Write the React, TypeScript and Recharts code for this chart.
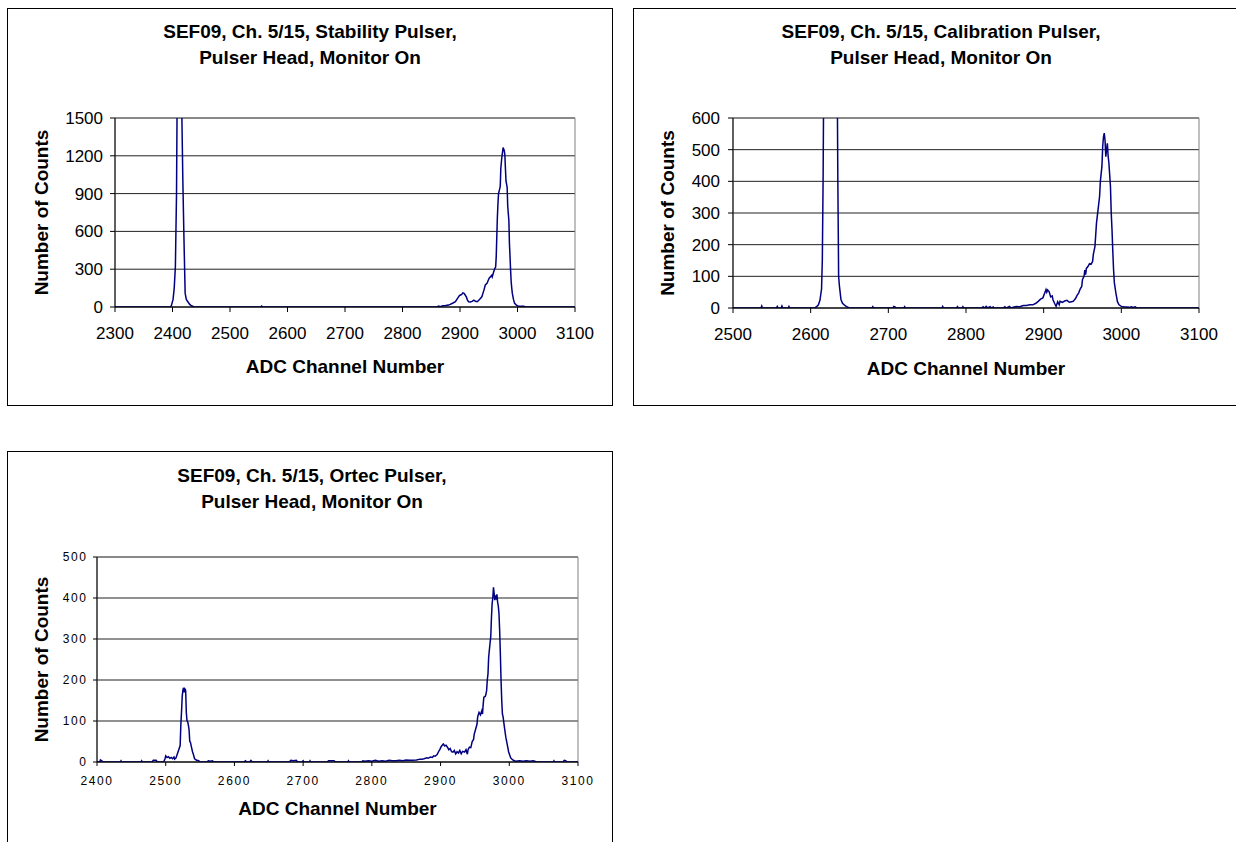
import React from "react";
import { LineChart, Line, XAxis, YAxis, CartesianGrid, ReferenceArea } from "recharts";

const FONT = "'Liberation Sans', Arial, Helvetica, sans-serif";
const LINE_COLOR = "#000080";

// [ADC channel, number of counts]
const stabilitySpectrum: [number, number][] = [
  [2300, 0], [2396, 0], [2398, 10], [2401, 60], [2403, 150], [2405, 320], [2407, 900],
  [2408, 1600], [2410, 2500], [2412, 3000], [2414, 2800], [2416, 1600], [2418, 1000],
  [2420, 530], [2422, 110], [2424, 60], [2427, 40], [2430, 20], [2433, 10], [2437, 3],
  [2440, 0], [2553, 0], [2555, 8], [2557, 0], [2860, 0], [2863, 8], [2866, 3], [2870, 10],
  [2875, 12], [2880, 15], [2883, 21], [2887, 30], [2892, 42], [2896, 70], [2899, 90],
  [2901, 95], [2903, 100], [2905, 112], [2907, 108], [2909, 95], [2911, 80], [2913, 55],
  [2915, 42], [2918, 40], [2921, 45], [2924, 55], [2927, 45], [2930, 42], [2933, 55],
  [2935, 65], [2938, 81], [2940, 110], [2942, 140], [2944, 175], [2947, 188], [2949, 210],
  [2951, 230], [2953, 240], [2955, 250], [2956, 239], [2958, 270], [2960, 300], [2962, 318],
  [2963, 400], [2964, 560], [2965, 713], [2966, 820], [2967, 900], [2969, 937], [2970, 960],
  [2971, 1100], [2973, 1200], [2974, 1230], [2975, 1265], [2976, 1253], [2977, 1240],
  [2978, 1210], [2979, 1100], [2980, 1000], [2982, 950], [2983, 800], [2985, 687],
  [2986, 500], [2987, 400], [2988, 292], [2989, 200], [2990, 150], [2991, 108], [2993, 60],
  [2995, 29], [2998, 15], [3001, 8], [3005, 5], [3011, 5], [3014, 0], [3100, 0],
];

const calibrationSpectrum: [number, number][] = [
  [2500, 0], [2536, 0], [2537, 6], [2538, 0], [2556, 0], [2557, 5], [2558, 0], [2562, 0],
  [2563, 6], [2564, 0], [2571, 0], [2572, 5], [2573, 0], [2605, 0], [2608, 5], [2610, 10],
  [2612, 25], [2614, 60], [2615, 150], [2616, 400], [2617, 800], [2619, 1500], [2625, 2000],
  [2632, 1500], [2634, 800], [2635, 400], [2636, 100], [2637, 70], [2639, 27], [2641, 15],
  [2644, 8], [2647, 3], [2650, 0], [2679, 0], [2680, 4], [2681, 0], [2706, 0], [2707, 5],
  [2709, 3], [2710, 0], [2720, 0], [2721, 4], [2722, 0], [2769, 0], [2770, 5], [2771, 0],
  [2788, 0], [2789, 4], [2790, 0], [2795, 0], [2796, 4], [2797, 0], [2820, 0], [2822, 4],
  [2824, 0], [2826, 5], [2828, 0], [2831, 4], [2833, 0], [2835, 3], [2836, 0], [2848, 0],
  [2850, 4], [2852, 0], [2856, 5], [2858, 0], [2862, 3], [2865, 5], [2868, 4], [2870, 5],
  [2874, 8], [2878, 8], [2882, 10], [2886, 10], [2890, 15], [2893, 21], [2896, 28],
  [2899, 32], [2901, 45], [2903, 58], [2904, 50], [2905, 57], [2907, 52], [2909, 35],
  [2911, 38], [2912, 26], [2914, 15], [2916, 5], [2918, 20], [2920, 10], [2921, 21],
  [2924, 18], [2927, 22], [2930, 24], [2933, 18], [2936, 20], [2938, 21], [2941, 30],
  [2943, 40], [2945, 47], [2947, 60], [2949, 68], [2950, 90], [2952, 100], [2953, 120],
  [2954, 105], [2955, 125], [2957, 131], [2959, 140], [2961, 138], [2963, 147], [2964, 170],
  [2966, 194], [2967, 230], [2968, 268], [2970, 310], [2972, 352], [2973, 400], [2975, 447],
  [2976, 510], [2977, 540], [2978, 552], [2979, 530], [2980, 478], [2981, 500], [2982, 520],
  [2983, 480], [2984, 457], [2986, 384], [2987, 300], [2988, 247], [2989, 180], [2990, 121],
  [2991, 80], [2993, 47], [2995, 20], [2997, 10], [3000, 5], [3004, 3], [3007, 3], [3010, 2],
  [3013, 4], [3015, 2], [3018, 4], [3020, 0], [3100, 0],
];

const ortecSpectrum: [number, number][] = [
  [2400, 0], [2404, 0], [2405, 5], [2407, 3], [2409, 0], [2434, 0], [2435, 3], [2436, 0],
  [2464, 0], [2465, 3], [2466, 0], [2480, 0], [2482, 4], [2486, 4], [2488, 0], [2497, 0],
  [2499, 8], [2500, 15], [2502, 11], [2504, 13], [2506, 9], [2508, 11], [2510, 8], [2512, 12],
  [2513, 7], [2515, 10], [2517, 20], [2519, 30], [2521, 40], [2522, 90], [2523, 122],
  [2524, 160], [2525, 175], [2526, 181], [2527, 170], [2528, 178], [2529, 175], [2530, 120],
  [2531, 100], [2532, 98], [2533, 90], [2534, 78], [2535, 50], [2536, 48], [2537, 40],
  [2539, 25], [2540, 20], [2542, 8], [2545, 4], [2548, 3], [2550, 0], [2560, 0], [2562, 3],
  [2565, 2], [2568, 3], [2570, 0], [2614, 0], [2616, 3], [2618, 0], [2622, 0], [2624, 4],
  [2626, 0], [2648, 0], [2649, 3], [2650, 0], [2680, 0], [2682, 4], [2686, 3], [2690, 4],
  [2692, 0], [2698, 0], [2700, 3], [2701, 0], [2709, 0], [2710, 3], [2711, 0], [2735, 0],
  [2737, 3], [2745, 3], [2747, 0], [2765, 0], [2766, 3], [2767, 0], [2785, 0], [2787, 3],
  [2790, 2], [2795, 3], [2800, 2], [2805, 4], [2810, 2], [2815, 3], [2820, 2], [2825, 4],
  [2830, 3], [2835, 3], [2840, 4], [2845, 3], [2850, 5], [2855, 4], [2859, 4], [2865, 5],
  [2870, 7], [2873, 7], [2876, 8], [2880, 10], [2882, 9], [2885, 12], [2888, 11], [2890, 15],
  [2892, 14], [2895, 18], [2897, 25], [2899, 31], [2901, 38], [2903, 42], [2904, 44],
  [2906, 39], [2908, 41], [2910, 36], [2912, 30], [2914, 33], [2916, 25], [2918, 24],
  [2920, 28], [2922, 20], [2924, 25], [2926, 22], [2928, 28], [2930, 20], [2932, 26],
  [2935, 24], [2937, 30], [2939, 19], [2940, 30], [2942, 36], [2944, 35], [2946, 50],
  [2948, 55], [2949, 68], [2951, 80], [2953, 92], [2954, 110], [2956, 121], [2958, 115],
  [2960, 125], [2961, 117], [2962, 140], [2963, 158], [2965, 160], [2966, 165], [2967, 174],
  [2968, 200], [2969, 215], [2970, 256], [2972, 290], [2973, 305], [2974, 350], [2975, 386],
  [2976, 400], [2977, 426], [2978, 410], [2979, 395], [2980, 403], [2981, 400], [2982, 409],
  [2983, 390], [2984, 380], [2985, 362], [2986, 320], [2987, 264], [2988, 200], [2989, 150],
  [2990, 117], [2991, 110], [2993, 84], [2995, 60], [2997, 43], [2999, 25], [3002, 10],
  [3005, 5], [3009, 2], [3015, 3], [3020, 2], [3025, 3], [3030, 2], [3035, 3], [3040, 0],
  [3064, 0], [3065, 3], [3066, 0], [3078, 0], [3080, 4], [3082, 3], [3084, 0], [3100, 0],
];

const stabilityXTicks = [2300, 2400, 2500, 2600, 2700, 2800, 2900, 3000, 3100];
const stabilityYTicks = [0, 300, 600, 900, 1200, 1500];
const calibrationXTicks = [2500, 2600, 2700, 2800, 2900, 3000, 3100];
const calibrationYTicks = [0, 100, 200, 300, 400, 500, 600];
const ortecXTicks = [2400, 2500, 2600, 2700, 2800, 2900, 3000, 3100];
const ortecYTicks = [0, 100, 200, 300, 400, 500];

const Y_AXIS_W = 70;
const X_AXIS_H = 50;

type PanelProps = {
  left: number;
  top: number;
  width: number;
  height: number;
  title: string[];
  titleTop: number;
  titleCenter: number;
  spectrum: [number, number][];
  xTicks: number[];
  yTicks: number[];
  margin: { top: number; right: number; bottom: number; left: number };
  tickFont: number;
  tickSpacing: number;
  tickSize: number;
  xTickMargin: number;
  yTickMargin: number;
  yTitleX: number;
  xTitleY: number;
};

const SpectrumPanel = (p: PanelProps) => {
  const data = p.spectrum.map(([channel, counts]) => ({ channel, counts }));
  const plotLeft = p.margin.left + Y_AXIS_W;
  const plotRight = p.width - p.margin.right;
  const plotTop = p.margin.top;
  const plotBottom = p.height - p.margin.bottom - X_AXIS_H;
  const xMin = p.xTicks[0];
  const xMax = p.xTicks[p.xTicks.length - 1];
  const yMax = p.yTicks[p.yTicks.length - 1];
  const tick = { fontSize: p.tickFont, fill: "#000", fontFamily: FONT, letterSpacing: p.tickSpacing };
  const titleStyle = { fontFamily: FONT, fontWeight: 700, fontSize: 19, fill: "#000" };

  return (
    <div style={{ position: "absolute", left: p.left, top: p.top, width: p.width, height: p.height }}>
      <LineChart width={p.width} height={p.height} data={data} margin={p.margin}>
        <CartesianGrid vertical={false} stroke="#222" horizontalValues={p.yTicks} />
        <ReferenceArea x1={xMin} x2={xMax} y1={0} y2={yMax} fill="none" stroke="#808080" strokeWidth={1} />
        <XAxis
          dataKey="channel"
          type="number"
          domain={[xMin, xMax]}
          ticks={p.xTicks}
          interval={0}
          allowDataOverflow
          height={X_AXIS_H}
          tick={tick}
          tickSize={p.tickSize}
          tickMargin={p.xTickMargin}
          stroke="#000"
          tickLine={{ stroke: "#000" }}
          label={() => (
            <text x={(plotLeft + plotRight) / 2} y={p.xTitleY} textAnchor="middle" dominantBaseline="central" style={titleStyle}>
              ADC Channel Number
            </text>
          )}
        />
        <YAxis
          type="number"
          domain={[0, yMax]}
          ticks={p.yTicks}
          interval={0}
          allowDataOverflow
          width={Y_AXIS_W}
          tick={tick}
          tickSize={p.tickSize}
          tickMargin={p.yTickMargin}
          stroke="#000"
          tickLine={{ stroke: "#000" }}
          label={() => {
            const cy = (plotTop + plotBottom) / 2;
            return (
              <text
                x={p.yTitleX}
                y={cy}
                textAnchor="middle"
                dominantBaseline="central"
                transform={`rotate(-90 ${p.yTitleX} ${cy})`}
                style={titleStyle}
              >
                Number of Counts
              </text>
            );
          }}
        />
        <Line
          dataKey="counts"
          type="linear"
          stroke={LINE_COLOR}
          strokeWidth={1.5}
          dot={false}
          activeDot={false}
          isAnimationActive={false}
        />
      </LineChart>
      <div
        style={{
          position: "absolute",
          left: 0,
          top: 0,
          width: p.width,
          height: p.height,
          boxSizing: "border-box",
          border: "1px solid #000",
          pointerEvents: "none",
        }}
      />
      <div
        style={{
          position: "absolute",
          left: p.titleCenter - 200,
          width: 400,
          top: p.titleTop,
          textAlign: "center",
          fontFamily: FONT,
          fontWeight: 700,
          fontSize: 19,
          lineHeight: "26px",
          color: "#000",
        }}
      >
        {p.title.map((t) => (
          <div key={t}>{t}</div>
        ))}
      </div>
    </div>
  );
};

export default function App() {
  return (
    <div
      style={{
        position: "absolute",
        left: 0,
        top: 0,
        width: 1236,
        height: 842,
        overflow: "hidden",
        background: "#fff",
        fontFamily: FONT,
      }}
    >
      <SpectrumPanel
        left={7}
        top={8}
        width={606}
        height={398}
        title={["SEF09, Ch. 5/15, Stability Pulser,", "Pulser Head, Monitor On"]}
        titleTop={11}
        titleCenter={303}
        spectrum={stabilitySpectrum}
        xTicks={stabilityXTicks}
        yTicks={stabilityYTicks}
        margin={{ top: 110, right: 38, bottom: 49, left: 38 }}
        tickFont={17}
        tickSpacing={0}
        tickSize={5}
        xTickMargin={15}
        yTickMargin={7}
        yTitleX={34.5}
        xTitleY={358.7}
      />
      <SpectrumPanel
        left={633}
        top={8}
        width={617}
        height={398}
        title={["SEF09, Ch. 5/15, Calibration Pulser,", "Pulser Head, Monitor On"]}
        titleTop={11}
        titleCenter={308}
        spectrum={calibrationSpectrum}
        xTicks={calibrationXTicks}
        yTicks={calibrationYTicks}
        margin={{ top: 110, right: 51, bottom: 48, left: 30 }}
        tickFont={17}
        tickSpacing={0}
        tickSize={5}
        xTickMargin={15}
        yTickMargin={8}
        yTitleX={34.8}
        xTitleY={360}
      />
      <SpectrumPanel
        left={7}
        top={451}
        width={606}
        height={400}
        title={["SEF09, Ch. 5/15, Ortec Pulser,", "Pulser Head, Monitor On"]}
        titleTop={11.7}
        titleCenter={305}
        spectrum={ortecSpectrum}
        xTicks={ortecXTicks}
        yTicks={ortecYTicks}
        margin={{ top: 106, right: 35, bottom: 39, left: 20 }}
        tickFont={12}
        tickSpacing={1.6}
        tickSize={4}
        xTickMargin={10}
        yTickMargin={5.5}
        yTitleX={34.7}
        xTitleY={357.3}
      />
    </div>
  );
}
